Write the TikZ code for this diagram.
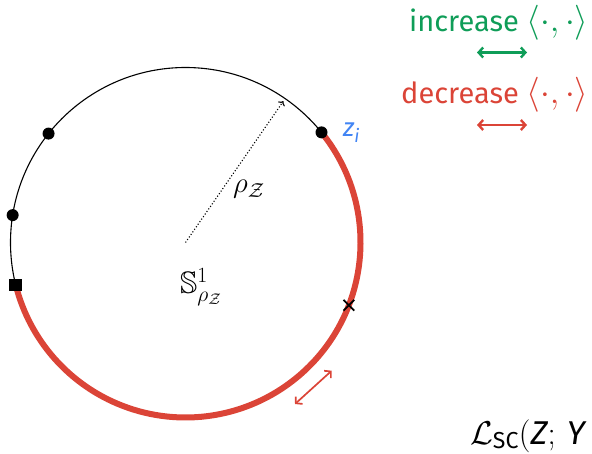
\documentclass[tikz,border=0pt]{standalone}
\usepackage{fix-cm}
\usepackage{amsmath,amssymb}
\usepackage[no-math]{fontspec}
\setmainfont{Fira Sans}
\usetikzlibrary{arrows.meta,calc,shapes.misc}
\definecolor{gred}{HTML}{DB4437}
\definecolor{ggreen}{HTML}{0F9D58}
\definecolor{gblue}{HTML}{4285F4}
\tikzset{
  dotmark/.style={circle,fill=black,inner sep=0pt,minimum size=12pt},
  sqmark/.style={rectangle,fill=black,inner sep=0pt,minimum size=12.5pt},
  crossmark/.style={cross out,draw=black,line width=1.8pt,inner sep=0pt,minimum size=9pt},
  lbl/.style={anchor=base west,inner sep=0pt},
  legarrow/.style={line width=2.4pt,{Straight Barb[length=4.5pt,width=10pt]}-{Straight Barb[length=4.5pt,width=10pt]}},
}
\newcommand{\brk}{{\fontsize{35}{37}\selectfont$\langle\cdot,\cdot\rangle$}}
\begin{document}
\begin{tikzpicture}[x=1pt,y=1pt]
\useasboundingbox (0,0) rectangle (592,453);
\def\R{175}
\coordinate (O) at (185.5,210.5);
\draw[line width=1.1pt] (O) circle (\R);
\draw[gred,line width=6pt] ($(O)+(39:\R)$) arc (39:-166:\R);
\node[dotmark] (zi) at ($(O)+(39:\R)$) {};
\node[dotmark] (d1) at ($(O)+(141.5:\R)$) {};
\node[dotmark] (d2) at ($(O)+(171:\R)$) {};
\node[sqmark] (sq) at ($(O)+(194:\R)$) {};
\node[crossmark] (cx) at ($(O)+(-21:\R)$) {};
\coordinate (rtip) at ($(O)+(55.3:172)$);
\draw[dotted,line width=1.1pt,-{To[length=4pt,width=8pt]}] (O) -- (rtip);
% labels
\node[lbl,text=gblue] (zl) at (343,316) {\fontsize{26}{28}\selectfont\itshape z$_{\textit{i}}$};
\node[lbl] (rho) at (233,260) {\fontsize{29}{31}\selectfont$\rho_{\mathcal{Z}}$};
\node[lbl] (s1) at (180,159) {\fontsize{31}{33}\selectfont$\mathbb{S}^1_{\rho_{\mathcal{Z}}}$};
% tangent arrow
\coordinate (ta) at (295,49);
\coordinate (tb) at (331.7,82.3);
\draw[gred,line width=1.7pt,{Straight Barb[length=4.5pt,width=10pt]}-{Straight Barb[length=4.5pt,width=10pt]}] (ta) -- (tb);
% legend
\node[lbl,text=ggreen] (inc) at (409,421.3) {\fontsize{29}{31}\selectfont increase \brk};
\coordinate (ga) at (477,400.5);
\coordinate (gb) at (527,400.5);
\draw[ggreen,legarrow] (ga) -- (gb);
\node[lbl,text=gred] (dec) at (401,349) {\fontsize{29}{31}\selectfont decrease \brk};
\coordinate (ra) at (477,328);
\coordinate (rb) at (527,328);
\draw[gred,legarrow] (ra) -- (rb);
\node[lbl] (loss) at (470,9) {\fontsize{33}{35}\selectfont$\mathcal{L}_{\textrm{SC}}(\textit{Z};\,\textit{Y}$};
\end{tikzpicture}
\end{document}
